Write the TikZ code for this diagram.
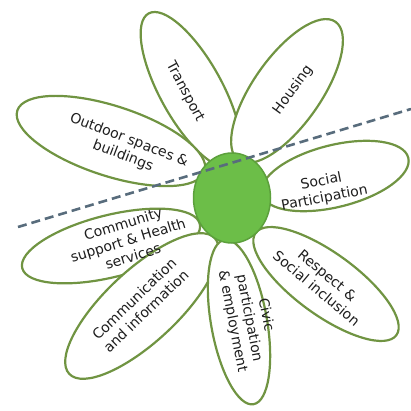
\documentclass[tikz,border=0pt]{standalone}
\usepackage{fontspec}
\setmainfont{DejaVu Sans}
\usetikzlibrary{shapes.geometric}
\definecolor{petalline}{RGB}{112,148,66}
\definecolor{heartfill}{RGB}{108,190,72}
\definecolor{heartline}{RGB}{92,160,60}
\definecolor{cutline}{RGB}{88,108,124}
\definecolor{labeltext}{RGB}{30,30,30}

\begin{document}
\begin{tikzpicture}[x=1pt,y=1pt,
  petal/.style={draw=petalline,line width=2.2pt,fill=white,ellipse,inner sep=0pt},
  heart/.style={draw=heartline,line width=1.5pt,fill=heartfill,ellipse,inner sep=0pt,minimum width=77pt,minimum height=90pt},
  petaltext/.style={text=labeltext,align=center,font=\fontsize{14}{17}\selectfont,inner sep=0pt}]
\useasboundingbox (0,0) rectangle (411,410);
\node[petal,minimum width=175pt,minimum height=62pt,rotate=119] (p-transport) at (191,320) {};
\node[petal,minimum width=169pt,minimum height=68pt,rotate=55] (p-housing) at (287,319) {};
\node[petal,minimum width=197pt,minimum height=70pt,rotate=162] (p-outdoor) at (111,269) {};
\node[petal,minimum width=151pt,minimum height=62pt,rotate=14] (p-social) at (335,234) {};
\node[petal,minimum width=183pt,minimum height=62pt,rotate=14] (p-community) at (111,164) {};
\node[petal,minimum width=199pt,minimum height=72pt,rotate=43] (p-communication) at (142,104) {};
\node[petal,minimum width=167pt,minimum height=56pt,rotate=-80] (p-civic) at (239,88) {};
\node[petal,minimum width=174pt,minimum height=62pt,rotate=-36] (p-respect) at (326,126) {};
\node[heart] (heart) at (232,212) {};
\node[petaltext,rotate=-62] (t-transport) at (185,318) {Transport};
\node[petaltext,rotate=54] (t-housing) at (293,320) {Housing};
\node[petaltext,rotate=-21] (t-outdoor) at (126,262) {Outdoor spaces \&\\buildings};
\node[petaltext,rotate=11] (t-social) at (323,220) {Social\\Participation};
\node[petaltext,rotate=17] (t-community) at (128,170) {Community\\support \& Health\\services};
\node[petaltext,rotate=44] (t-communication) at (140,105) {Communication\\and information};
\node[petaltext,rotate=-79] (t-civic) at (249,92) {Civic\\participation\\\& employment};
\node[petaltext,rotate=-40] (t-respect) at (322,128) {Respect \&\\Social inclusion};
\coordinate (cut-w) at (18,183);
\coordinate (cut-e) at (411,301);
\draw[cutline,line width=2.6pt,dash pattern=on 9pt off 5pt] (cut-w) -- (cut-e);
\end{tikzpicture}
\end{document}
